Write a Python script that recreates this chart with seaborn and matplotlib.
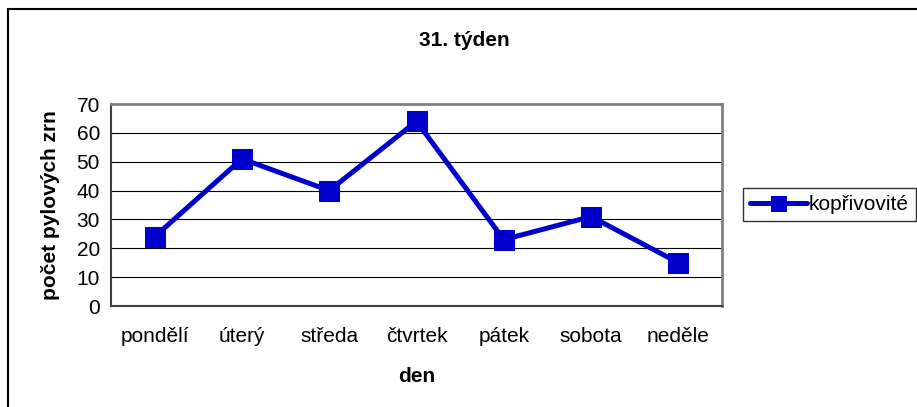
import pandas as pd
import matplotlib
matplotlib.use('Agg')
import matplotlib.pyplot as plt
import seaborn as sns
from matplotlib.patches import Rectangle

# data
days = ['pondělí', 'úterý', 'středa', 'čtvrtek', 'pátek', 'sobota', 'neděle']
counts = [24, 51, 40, 64, 23, 31, 15]
series_name = 'kopřivovité'
y_ticks = [0, 10, 20, 30, 40, 50, 60, 70]

df = pd.DataFrame({'den': days, 'pocet': counts})
df['x'] = range(len(days))

sns.set_style('white')
plt.rcParams['font.family'] = ['Liberation Sans', 'DejaVu Sans']
plt.rcParams['text.color'] = 'black'
plt.rcParams['axes.labelcolor'] = 'black'
plt.rcParams['xtick.color'] = 'black'
plt.rcParams['ytick.color'] = 'black'

fs = 15
fig = plt.figure(figsize=(9.17, 4.07), dpi=100)
ax = fig.add_axes([111 / 917, 1 - 306 / 407, (722 - 111) / 917, (306 - 104) / 407])

blue = '#0000cc'
sns.lineplot(data=df, x='x', y='pocet', ax=ax, color=blue, linewidth=3.6,
             marker='s', markersize=14.4, markeredgecolor=blue,
             label=series_name, zorder=3)

ax.set_xlim(-0.5, len(days) - 0.5)
ax.set_ylim(0, 70)
ax.set_yticks(y_ticks)
ax.set_yticklabels([str(v) for v in y_ticks], fontsize=fs)
ax.set_xticks(range(len(days)))
ax.set_xticklabels(days, fontsize=fs)
ax.tick_params(axis='x', length=0, pad=15)
ax.set_xticks([i - 0.5 for i in range(len(days) + 1)], minor=True)
ax.tick_params(axis='x', which='minor', length=5, width=1, color='#404040', direction='out')
ax.tick_params(axis='y', length=5, width=1, color='#404040', labelcolor='black',
               direction='out', pad=3)
ax.yaxis.grid(True, color='black', linewidth=0.8)
ax.set_axisbelow(True)

for side in ['top', 'right']:
    ax.spines[side].set_color('#808080')
    ax.spines[side].set_linewidth(2)
for side in ['left', 'bottom']:
    ax.spines[side].set_color('#404040')
    ax.spines[side].set_linewidth(1.5)

ax.set_xlabel('den', fontsize=fs, fontweight='bold', labelpad=15)
ax.set_ylabel('počet pylových zrn', fontsize=fs, fontweight='bold', labelpad=12)
fig.text(464 / 917, 1 - 40 / 407, '31. týden', ha='center', va='center',
         fontsize=fs, fontweight='bold')

leg = ax.legend(loc='center left', bbox_to_anchor=(743 / 917, 1 - 204.5 / 407),
                bbox_transform=fig.transFigure, frameon=True, fancybox=False,
                fontsize=fs, handlelength=2.7, borderpad=0.35, borderaxespad=0,
                handletextpad=0.1, markerscale=0.75)
leg.get_frame().set_edgecolor('black')
leg.get_frame().set_linewidth(1)

# outer chart border (runs off the right and bottom edges)
fig.patches.append(Rectangle((8 / 917, -0.1), 1.2, 1 - 9 / 407 + 0.1,
                             transform=fig.transFigure, fill=False,
                             edgecolor='black', linewidth=1.5))

plt.savefig('out.png', dpi=100)
